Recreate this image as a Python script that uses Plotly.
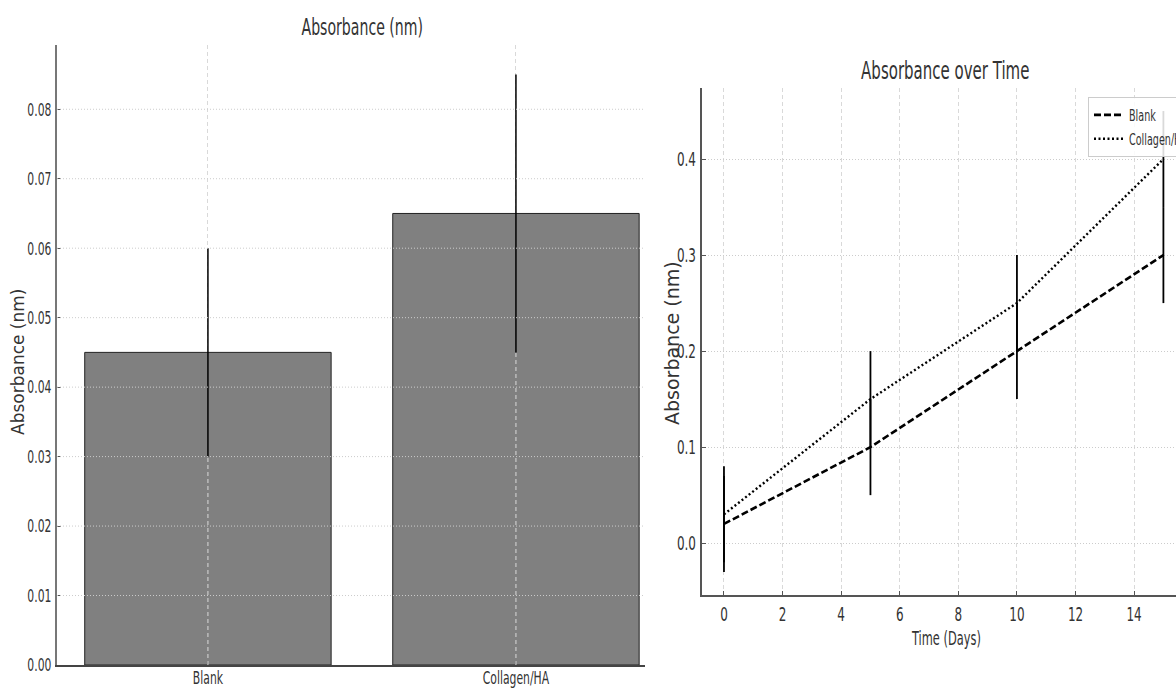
import plotly.graph_objects as go

# ---------------- data ----------------
categories = ["Blank", "Collagen/HA"]
bar_means = [0.045, 0.065]
bar_errs = [0.015, 0.020]
left_yticks = [0.00, 0.01, 0.02, 0.03, 0.04, 0.05, 0.06, 0.07, 0.08]

days = [0, 5, 10, 15]
blank_abs = [0.02, 0.10, 0.20, 0.30]
blank_err = [0.05, 0.05, 0.05, 0.05]
collagen_abs = [0.03, 0.15, 0.25, 0.40]
collagen_err = [0.05, 0.05, 0.05, 0.05]
day_ticks = [0, 2, 4, 6, 8, 10, 12, 14]
right_yticks = [0.0, 0.1, 0.2, 0.3, 0.4]

W, H = 1176, 689
FONT = "DejaVu Sans"
TXT = "#333333"
GRID_H = "#cccccc"
GRID_V = "#d9d9d9"


def px(x):
    return x / W


def py(y):
    return 1 - y / H


fig = go.Figure()

# ---------------- left: bar chart ----------------
fig.add_trace(go.Bar(
    x=categories, y=bar_means, width=0.8,
    marker=dict(color="#808080", line=dict(color="#222222", width=1)),
    error_y=dict(type="data", array=bar_errs, color="black", thickness=1.5, width=0),
    xaxis="x", yaxis="y", showlegend=False,
))

# ---------------- right: line chart ----------------
fig.add_trace(go.Scatter(
    x=days, y=blank_abs, mode="lines", name="Blank",
    line=dict(color="black", width=2.6, dash="7px,3px"),
    error_y=dict(type="data", array=blank_err, color="black", thickness=1.8, width=0),
    xaxis="x2", yaxis="y2",
))
fig.add_trace(go.Scatter(
    x=days, y=collagen_abs, mode="lines", name="Collagen/HA",
    line=dict(color="black", width=2.4, dash="2px,2.5px"),
    error_y=dict(type="data", array=collagen_err, color="black", thickness=1.8, width=0),
    xaxis="x2", yaxis="y2",
))

# grid of the bar chart shows over the bars (but under the error bars)
for v in left_yticks[1:]:
    fig.add_shape(type="line", xref="x domain", x0=0, x1=1, yref="y", y0=v, y1=v,
                  line=dict(color=GRID_H, width=1, dash="1px,2px"), layer="above")
for i, (m, e) in enumerate(zip(bar_means, bar_errs)):
    fig.add_shape(type="line", xref="x", x0=i, x1=i, yref="y", y0=0, y1=m - e,
                  line=dict(color=GRID_V, width=1, dash="4px,3px"), layer="above")

tick_common = dict(ticks="inside", ticklen=4, tickcolor="#555555", zeroline=False)

fig.update_layout(
    width=W, height=H,
    margin=dict(l=0, r=0, t=0, b=0, autoexpand=False),
    paper_bgcolor="white", plot_bgcolor="white",
    font=dict(family=FONT, color=TXT),
    xaxis=dict(domain=[px(57), px(645)], anchor="y", type="category",
               range=[-0.49, 1.419], showgrid=True, gridcolor=GRID_V,
               griddash="4px,3px", gridwidth=1, showline=True,
               linecolor="#444444", linewidth=2, ticklabelstandoff=-5,
               tickfont=dict(family=FONT, size=18, color=TXT), **tick_common),
    yaxis=dict(domain=[1 - 665 / H, 1 - 45 / H], anchor="x",
               range=[0, 0.08925], tickvals=left_yticks, tickformat=".2f",
               showgrid=False, showline=True, linecolor="#777777", linewidth=2,
               tickfont=dict(family=FONT, size=18, color=TXT), **tick_common),
    xaxis2=dict(domain=[px(702), 1.0], anchor="y2", range=[-0.75, 15.43],
                tickvals=day_ticks, showgrid=True, gridcolor=GRID_V,
                griddash="4px,3px", gridwidth=1, showline=True,
                linecolor="#555555", linewidth=2,
                tickfont=dict(family=FONT, size=20, color=TXT), **tick_common),
    yaxis2=dict(domain=[1 - 595 / H, 1 - 88 / H], anchor="x2",
                range=[-0.054, 0.474], tickvals=right_yticks, tickformat=".1f",
                showgrid=True, gridcolor=GRID_H, griddash="1px,2px", gridwidth=1,
                showline=True, linecolor="#555555", linewidth=2,
                tickfont=dict(family=FONT, size=20, color=TXT), **tick_common),
    legend=dict(x=px(1088), y=py(97), xanchor="left", yanchor="top",
                bgcolor="rgba(255,255,255,0.85)", bordercolor="#cccccc",
                borderwidth=1, font=dict(family=FONT, size=16, color=TXT)),
    annotations=[
        dict(text="Absorbance (nm)", x=px(362), y=py(27), xref="paper", yref="paper",
             xanchor="center", yanchor="middle", showarrow=False,
             font=dict(family=FONT, size=23.5, color=TXT)),
        dict(text="Absorbance (nm)", x=px(18), y=py(362), xref="paper", yref="paper",
             xanchor="center", yanchor="middle", showarrow=False, textangle=-90,
             font=dict(family=FONT, size=17, color=TXT)),
        dict(text="Absorbance over Time", x=px(946), y=py(70), xref="paper", yref="paper",
             xanchor="center", yanchor="middle", showarrow=False,
             font=dict(family=FONT, size=25, color=TXT)),
        dict(text="Absorbance (nm)", x=px(672), y=py(343), xref="paper", yref="paper",
             xanchor="center", yanchor="middle", showarrow=False, textangle=-90,
             font=dict(family=FONT, size=19, color=TXT)),
        dict(text="Time (Days)", x=px(946), y=py(638), xref="paper", yref="paper",
             xanchor="center", yanchor="middle", showarrow=False,
             font=dict(family=FONT, size=19, color=TXT)),
    ],
)

# the reference image is horizontally compressed: narrow horizontal text glyphs
squeeze_js = """
var gd = document.getElementById('{plot_id}');
function squeezeText(){
  gd.querySelectorAll('text').forEach(function(t){
    if (t.getAttribute('data-sq')) return;
    var m = t.getCTM();
    if (!m || Math.abs(m.a) < 0.5) return;
    var w = t.getComputedTextLength();
    if (!(w > 0)) return;
    t.setAttribute('textLength', (w * 0.6).toFixed(2));
    t.setAttribute('lengthAdjust', 'spacingAndGlyphs');
    t.setAttribute('data-sq', '1');
  });
}
squeezeText();
"""

fig.write_html("out.html", post_script=squeeze_js)
